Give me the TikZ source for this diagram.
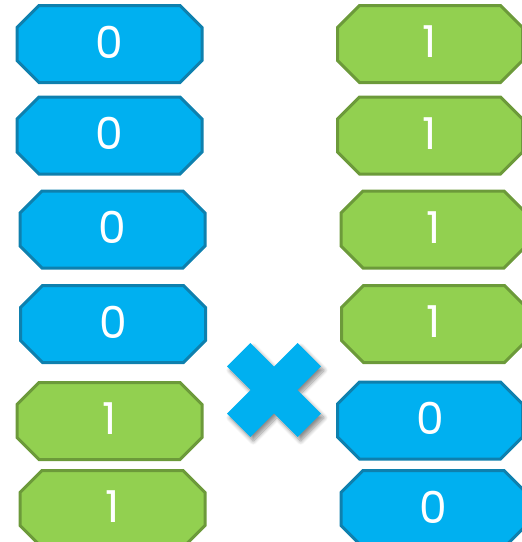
\documentclass[tikz,border=0pt]{standalone}
\usepackage{fontspec}
\setmainfont{Poppins}
\usetikzlibrary{shadows.blur}
\definecolor{bfill}{HTML}{00B0F0}
\definecolor{bline}{HTML}{0E80AE}
\definecolor{gfill}{HTML}{92D050}
\definecolor{gline}{HTML}{6C9A3A}
\tikzset{
  bluebox/.style={fill=bfill, draw=bline, line width=3pt, line join=miter},
  greenbox/.style={fill=gfill, draw=gline, line width=3pt, line join=miter},
  digit/.style={text=white, font=\fontsize{44}{44}\selectfont, inner sep=0pt, anchor=center},
  crossarm/.style={fill=bfill, draw=none}
}
% name, cx, cy, style, text
\newcommand\octbox[5]{%
  \draw[#4] (#2-70.5,#3-38.5) -- (#2+70.5,#3-38.5) -- (#2+92.5,#3-16.5) -- (#2+92.5,#3+16.5)
    -- (#2+70.5,#3+38.5) -- (#2-70.5,#3+38.5) -- (#2-92.5,#3+16.5) -- (#2-92.5,#3-16.5) -- cycle;
  \node[digit] (#1) at (#2,#3-2) {#5};
}
\begin{document}
\begin{tikzpicture}[x=1pt,y=-1pt]
\useasboundingbox (0,0) rectangle (522,542);
\clip (0,0) rectangle (522,542);
% left column
\octbox{l1}{109.5}{44}{bluebox}{0}
\octbox{l2}{109.5}{135.5}{bluebox}{0}
\octbox{l3}{112.5}{229.5}{bluebox}{0}
\octbox{l4}{113}{324}{bluebox}{0}
\octbox{l5}{109.5}{421}{greenbox}{1}
\octbox{l6}{112.5}{509}{greenbox}{1}
% right column
\octbox{r1}{430}{44}{greenbox}{1}
\octbox{r2}{430}{135.5}{greenbox}{1}
\octbox{r3}{433.5}{229.5}{greenbox}{1}
\octbox{r4}{434}{324}{greenbox}{1}
\octbox{r5}{430}{420.5}{bluebox}{0}
\octbox{r6}{433.5}{509}{bluebox}{0}
% cross
\coordinate (x) at (274,390);
\fill[crossarm, blur shadow={shadow xshift=3pt, shadow yshift=-4pt, shadow blur steps=8, shadow blur radius=4pt, shadow opacity=45}]
  ([shift={(-47,-23.7)}]x) -- ([shift={(-23.7,-47)}]x) -- ([shift={(0,-23.3)}]x)
  -- ([shift={(23.7,-47)}]x) -- ([shift={(47,-23.7)}]x) -- ([shift={(23.3,0)}]x)
  -- ([shift={(47,23.7)}]x) -- ([shift={(23.7,47)}]x) -- ([shift={(0,23.3)}]x)
  -- ([shift={(-23.7,47)}]x) -- ([shift={(-47,23.7)}]x) -- ([shift={(-23.3,0)}]x) -- cycle;
\end{tikzpicture}
\end{document}
